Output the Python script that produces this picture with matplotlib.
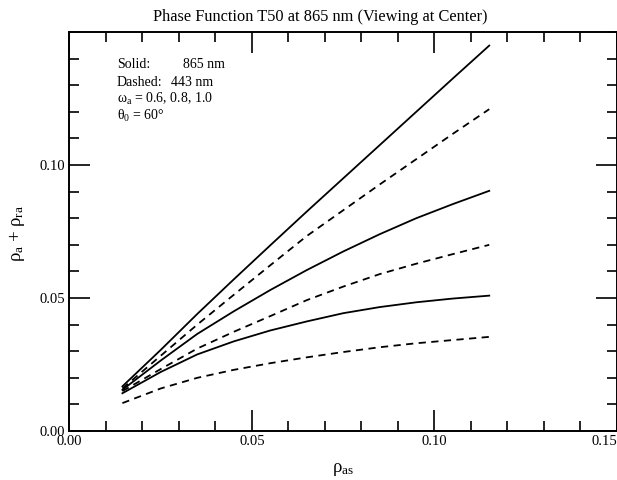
import matplotlib
matplotlib.use("Agg")
import matplotlib.pyplot as plt
from matplotlib.ticker import MultipleLocator, FormatStrFormatter

plt.rcParams["font.family"] = ["Liberation Serif", "DejaVu Serif"]
plt.rcParams["mathtext.fontset"] = "custom"
plt.rcParams["mathtext.rm"] = "Liberation Serif"
plt.rcParams["mathtext.it"] = "Liberation Serif"
plt.rcParams["mathtext.bf"] = "Liberation Serif:bold"

# rho_as values (x) sampled along the curves
rho_as = [0.0145, 0.025, 0.035, 0.045, 0.055, 0.065, 0.075, 0.085, 0.095, 0.105, 0.115]

# Solid: 865 nm, omega_a = 1.0, 0.8, 0.6
solid_10 = [0.0168, 0.0305, 0.0440, 0.0570, 0.0698, 0.0825, 0.0950, 0.1075, 0.1200, 0.1325, 0.1449]
solid_08 = [0.0155, 0.0265, 0.0365, 0.0450, 0.0530, 0.0605, 0.0675, 0.0740, 0.0800, 0.0853, 0.0903]
solid_06 = [0.0142, 0.0222, 0.0288, 0.0337, 0.0378, 0.0412, 0.0443, 0.0466, 0.0484, 0.0498, 0.0509]

# Dashed: 443 nm, omega_a = 1.0, 0.8, 0.6
dashed_10 = [0.0160, 0.0283, 0.0400, 0.0512, 0.0623, 0.0733, 0.0830, 0.0927, 0.1022, 0.1117, 0.1210]
dashed_08 = [0.0150, 0.0233, 0.0310, 0.0373, 0.0432, 0.0492, 0.0543, 0.0590, 0.0629, 0.0665, 0.0700]
dashed_06 = [0.0105, 0.0160, 0.0200, 0.0230, 0.0255, 0.0277, 0.0297, 0.0315, 0.0330, 0.0342, 0.0354]

fig = plt.figure(figsize=(6.17, 4.8), dpi=100)
ax = fig.add_axes([0.1126, 0.102, 0.8874, 0.8313])

for ys in (solid_10, solid_08, solid_06):
    ax.plot(rho_as, ys, color="black", lw=1.3)
for ys in (dashed_10, dashed_08, dashed_06):
    ax.plot(rho_as, ys, color="black", lw=1.3, ls=(0, (4, 3)))

ax.set_xlim(0, 0.15)
ax.set_ylim(0, 0.15)
ax.xaxis.set_major_locator(MultipleLocator(0.05))
ax.xaxis.set_minor_locator(MultipleLocator(0.01))
ax.yaxis.set_major_locator(MultipleLocator(0.05))
ax.yaxis.set_minor_locator(MultipleLocator(0.01))
ax.xaxis.set_major_formatter(FormatStrFormatter("%.2f"))
ax.yaxis.set_major_formatter(FormatStrFormatter("%.2f"))
ax.set_xticks([0.0, 0.05, 0.10, 0.15])
ax.set_yticks([0.0, 0.05, 0.10])

ax.tick_params(which="both", direction="in", top=True, right=True, width=1.2, labelsize=10.5)
ax.tick_params(which="major", length=15, pad=3)
ax.tick_params(which="minor", length=7)
for sp in ax.spines.values():
    sp.set_linewidth(1.4)

# last x label sits at the right edge of the figure
fig.canvas.draw()
ax.get_xticklabels()[-1].set_horizontalalignment("right")

fig.text(320 / 617, 1 - 17 / 480, "Phase Function T50 at 865 nm (Viewing at Center)",
         ha="center", va="center", fontsize=11.8)
fig.text(17 / 617, 1 - 233 / 480, r"$\rho_{\mathrm{a}}$ + $\rho_{\mathrm{ra}}$",
         rotation=90, ha="center", va="center", fontsize=13.5)
fig.text(343 / 617, 1 - 470 / 480, r"$\rho_{\mathrm{as}}$", ha="center", va="center", fontsize=13.5)

notes = ["Solid:", "Dashed:", r"$\omega_{\mathrm{a}}$ = 0.6, 0.8, 1.0", r"$\theta_0$ = 60°"]
note_y = [65, 82, 99, 116]
for s, y in zip(notes, note_y):
    fig.text(117 / 617, 1 - y / 480, s, ha="left", va="center", fontsize=10)
fig.text(183 / 617, 1 - 65 / 480, "865 nm", ha="left", va="center", fontsize=10)
fig.text(171 / 617, 1 - 82 / 480, "443 nm", ha="left", va="center", fontsize=10)

fig.savefig("out.png", dpi=100)
